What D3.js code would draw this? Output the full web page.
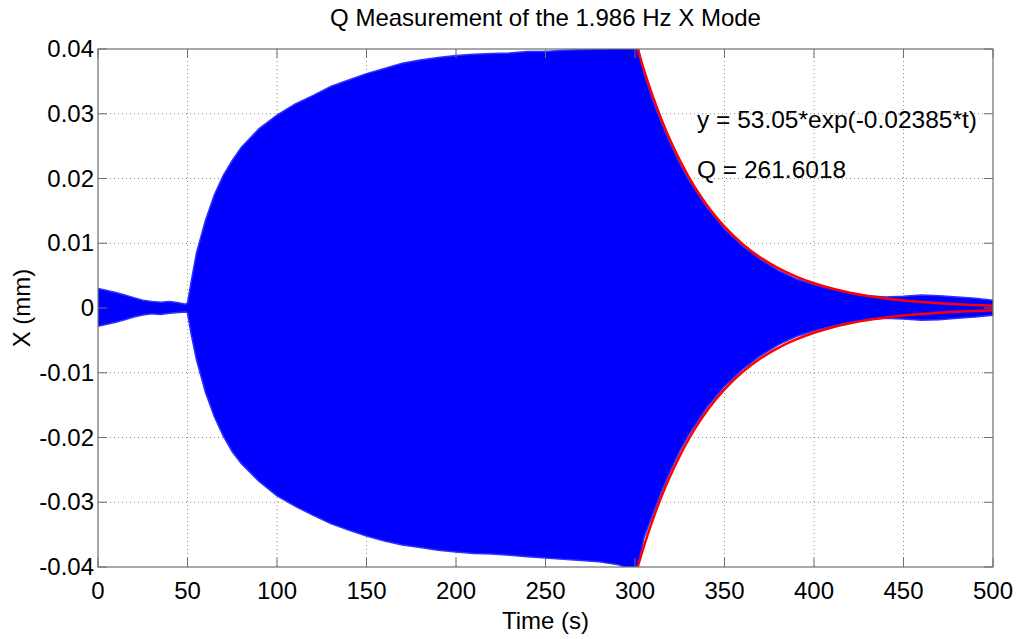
<!DOCTYPE html>
<html>
<head>
<meta charset="utf-8">
<script src="https://d3js.org/d3.v7.min.js"></script>
<style>
body, html {
    margin: 0;
    background: #fff;
    font-family: "Liberation Sans", Arial, sans-serif;
}
.grid line {
  stroke: #8c8c8c;
  stroke-width: 1;
  stroke-dasharray: 1,3;
}
</style>
</head>
<body>
<div id="chart"></div>
<script>
var times = [0,5,10,15,20,25,30,35,40,45,49,50,52,55,60,65,70,75,80,90,100,110,120,130,140,150,160,170,180,190,200,210,220,230,240,250,260,270,280,290,300,302,305,310,315,320,325,330,340,350,360,370,380,390,400,410,420,430,440,450,460,470,480,490,500];
var upper = [0.0030,0.0027,0.0024,0.0020,0.0016,0.0012,0.0010,0.0009,0.0010,0.0008,0.0006,0.0008,0.0040,0.0085,0.0135,0.0175,0.0205,0.0228,0.0248,0.0277,0.0298,0.0315,0.0328,0.0342,0.0352,0.0362,0.0370,0.0378,0.0383,0.0387,0.0390,0.0392,0.0393,0.0394,0.0396,0.0396,0.0398,0.0399,0.0400,0.0402,0.0410,0.0400,0.0362,0.0320,0.0284,0.0252,0.0223,0.0198,0.0156,0.0122,0.0096,0.0075,0.0058,0.0045,0.0036,0.0029,0.0023,0.0019,0.0017,0.0018,0.0020,0.0019,0.0017,0.0015,0.0012];
var lower = [-0.0028,-0.0025,-0.0022,-0.0018,-0.0014,-0.0011,-0.0009,-0.0010,-0.0008,-0.0007,-0.0006,-0.0008,-0.0040,-0.0080,-0.0130,-0.0168,-0.0198,-0.0222,-0.0240,-0.0268,-0.0290,-0.0306,-0.0320,-0.0333,-0.0343,-0.0352,-0.0360,-0.0366,-0.0370,-0.0374,-0.0377,-0.0379,-0.0380,-0.0382,-0.0384,-0.0386,-0.0388,-0.0390,-0.0392,-0.0396,-0.0405,-0.0395,-0.0355,-0.0318,-0.0282,-0.0250,-0.0221,-0.0196,-0.0154,-0.0121,-0.0095,-0.0074,-0.0057,-0.0044,-0.0035,-0.0028,-0.0022,-0.0018,-0.0016,-0.0017,-0.0019,-0.0018,-0.0016,-0.0014,-0.0011];

// fitted decay y = 53.05*exp(-0.02385*t), values tabulated
var fitTimes = [300,305,310,315,320,325,330,335,340,345,350,360,370,380,390,400,410,420,430,440,450,460,470,480,490,500];
var fitVals = [0.04143,0.03677,0.03264,0.02897,0.02572,0.02283,0.02026,0.01798,0.01596,0.01417,0.01257,0.009904,0.007802,0.006147,0.004843,0.003815,0.003006,0.002368,0.001866,0.001470,0.001158,0.000912,0.000719,0.000566,0.000446,0.000351];

var xTicks = [0,50,100,150,200,250,300,350,400,450,500];
var yTicks = [-0.04,-0.03,-0.02,-0.01,0,0.01,0.02,0.03,0.04];
var yTickLabels = ["-0.04","-0.03","-0.02","-0.01","0","0.01","0.02","0.03","0.04"];

var width = 1018, height = 639;
var margin = {left: 98, right: 25, top: 49, bottom: 72};
var iw = width - margin.left - margin.right,
    ih = height - margin.top - margin.bottom;

var svg = d3.select('#chart').append('svg')
  .attr('width', width)
  .attr('height', height);

var x = d3.scaleLinear().domain([0, 500]).range([0, iw]);
var y = d3.scaleLinear().domain([-0.04, 0.04]).range([ih, 0]);

var g = svg.append('g').attr('transform', 'translate(' + margin.left + ',' + margin.top + ')');

g.append('clipPath').attr('id', 'clip')
  .append('rect').attr('width', iw).attr('height', ih);

// grid
var grid = g.append('g').attr('class', 'grid');
grid.selectAll('line.v').data(xTicks.slice(1, -1)).enter().append('line')
  .attr('x1', d => x(d)).attr('x2', d => x(d)).attr('y1', 0).attr('y2', ih);
grid.selectAll('line.h').data(yTicks.slice(1, -1)).enter().append('line')
  .attr('y1', d => y(d)).attr('y2', d => y(d)).attr('x1', 0).attr('x2', iw);

// signal envelope
var env = times.map((t, i) => ({t: t, hi: upper[i], lo: lower[i]}));
var area = d3.area()
  .x(d => x(d.t))
  .y0(d => y(d.lo))
  .y1(d => y(d.hi));
g.append('path')
  .datum(env)
  .attr('clip-path', 'url(#clip)')
  .attr('fill', '#0000ff')
  .attr('stroke', '#3030ff')
  .attr('stroke-width', 1.5)
  .attr('d', area);

// fit curves
var fit = fitTimes.map((t, i) => ({t: t, v: fitVals[i]}));
var fitLine = d3.line().x(d => x(d.t)).y(d => y(d.v)).curve(d3.curveMonotoneX);
var fitLineNeg = d3.line().x(d => x(d.t)).y(d => y(-d.v)).curve(d3.curveMonotoneX);
[fitLine, fitLineNeg].forEach(function (ln) {
  g.append('path')
    .datum(fit)
    .attr('clip-path', 'url(#clip)')
    .attr('fill', 'none')
    .attr('stroke', '#ff0000')
    .attr('stroke-width', 2.5)
    .attr('d', ln);
});

// frame and ticks (inside, all four sides)
var frameColor = '#6e6e6e';
g.append('rect').attr('width', iw).attr('height', ih)
  .attr('fill', 'none').attr('stroke', frameColor).attr('stroke-width', 1.2);
var tl = 9;
xTicks.forEach(function (d) {
  g.append('line').attr('x1', x(d)).attr('x2', x(d)).attr('y1', ih).attr('y2', ih - tl).attr('stroke', frameColor);
  g.append('line').attr('x1', x(d)).attr('x2', x(d)).attr('y1', 0).attr('y2', tl).attr('stroke', frameColor);
});
yTicks.forEach(function (d) {
  g.append('line').attr('y1', y(d)).attr('y2', y(d)).attr('x1', 0).attr('x2', tl).attr('stroke', frameColor);
  g.append('line').attr('y1', y(d)).attr('y2', y(d)).attr('x1', iw).attr('x2', iw - tl).attr('stroke', frameColor);
});

// tick labels
g.selectAll('text.xt').data(xTicks).enter().append('text')
  .attr('x', d => x(d)).attr('y', ih + 32)
  .attr('text-anchor', 'middle')
  .style('font-size', '24px')
  .text(d => d);
g.selectAll('text.yt').data(yTicks).enter().append('text')
  .attr('x', -4).attr('y', d => y(d) + 8)
  .attr('text-anchor', 'end')
  .style('font-size', '24px')
  .text((d, i) => yTickLabels[i]);

// titles
svg.append('text')
  .attr('x', margin.left + iw / 2).attr('y', 26)
  .attr('text-anchor', 'middle')
  .style('font-size', '24px')
  .text('Q Measurement of the 1.986 Hz X Mode');
svg.append('text')
  .attr('x', margin.left + iw / 2).attr('y', 629)
  .attr('text-anchor', 'middle')
  .style('font-size', '24px')
  .text('Time (s)');
svg.append('text')
  .attr('transform', 'translate(30,' + (margin.top + ih / 2) + ') rotate(-90)')
  .attr('text-anchor', 'middle')
  .style('font-size', '24px')
  .text('X (mm)');

// annotations
svg.append('text')
  .attr('x', 697).attr('y', 128)
  .style('font-size', '24.5px')
  .text('y = 53.05*exp(-0.02385*t)');
svg.append('text')
  .attr('x', 697).attr('y', 178)
  .style('font-size', '24.5px')
  .text('Q = 261.6018');
</script>
</body>
</html>
